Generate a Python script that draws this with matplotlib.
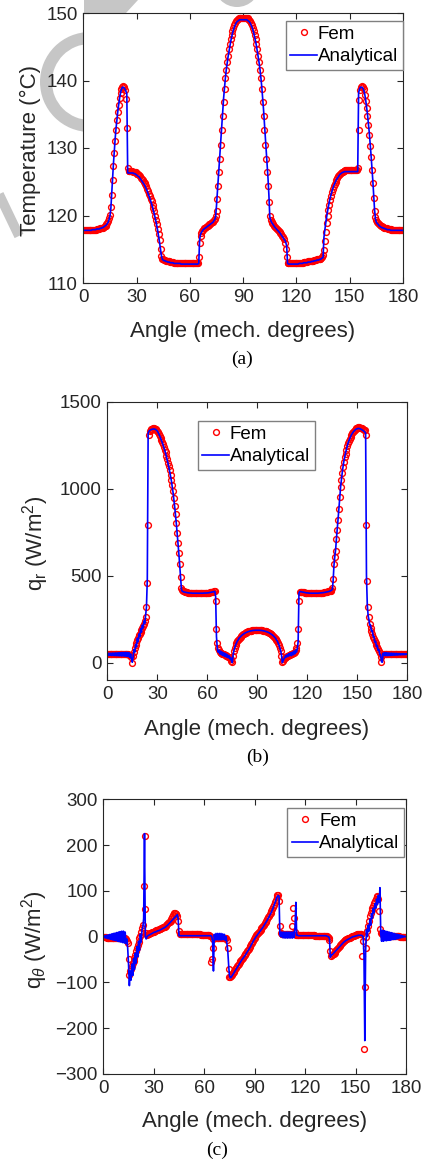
import numpy as np
import matplotlib.pyplot as plt
from matplotlib.patches import Wedge, Circle, Polygon

plt.rcParams['font.family'] = ['Liberation Sans', 'DejaVu Sans']
plt.rcParams['mathtext.fontset'] = 'custom'
plt.rcParams['mathtext.rm'] = 'Liberation Sans'
plt.rcParams['mathtext.it'] = 'Liberation Sans:italic'

# angle grid, 0.5 deg steps (mech. degrees)
angle = np.arange(0, 180.5, 0.5)

# ---------------- (a) temperature ----------------
temp_fem = [
    117.8, 117.8, 117.8, 117.8, 117.8, 117.8, 117.8, 117.8, 117.8, 117.8,
    117.9, 117.9, 117.9, 117.9, 117.9, 118.0, 118.0, 118.0, 118.0, 118.1,
    118.1, 118.2, 118.2, 118.3, 118.4, 118.5, 118.7, 118.9, 119.2, 119.6,
    120.1, 121.2, 123.0, 125.2, 127.3, 129.3, 131.1, 132.7, 134.1, 135.3,
    136.4, 137.4, 138.2, 138.8, 139.1, 139.2, 139.1, 138.6, 137.2, 132.9,
    127.0, 126.6, 126.6, 126.6, 126.6, 126.6, 126.5, 126.5, 126.4, 126.4,
    126.2, 126.2, 126.1, 126.0, 125.8, 125.6, 125.4, 125.2, 125.0, 124.8,
    124.6, 124.3, 123.9, 123.6, 123.2, 122.9, 122.5, 122.1, 121.6, 121.1,
    120.6, 120.0, 119.4, 118.7, 118.0, 117.3, 116.3, 115.0, 114.0, 113.6,
    113.5, 113.4, 113.4, 113.3, 113.3, 113.2, 113.2, 113.2, 113.1, 113.1,
    113.1, 113.1, 113.0, 113.0, 113.0, 113.0, 113.0, 113.0, 112.9, 112.9,
    112.9, 112.9, 112.9, 112.9, 112.9, 112.9, 112.9, 112.9, 112.9, 112.9,
    112.9, 112.9, 112.9, 112.9, 112.9, 112.9, 112.9, 112.9, 112.9, 113.0,
    113.9, 115.9, 116.9, 117.4, 117.7, 117.9, 118.1, 118.2, 118.3, 118.4,
    118.5, 118.6, 118.7, 118.8, 118.9, 119.0, 119.1, 119.3, 119.5, 120.0,
    120.6, 122.4, 124.4, 126.4, 128.4, 130.4, 132.6, 134.8, 136.8, 138.7,
    140.4, 141.6, 142.7, 143.7, 144.6, 145.4, 146.1, 146.7, 147.3, 147.8,
    148.2, 148.5, 148.8, 149.0, 149.1, 149.2, 149.2, 149.2, 149.2, 149.2,
    149.2, 149.2, 149.2, 149.2, 149.2, 149.2, 149.1, 149.0, 148.8, 148.5,
    148.2, 147.8, 147.3, 146.7, 146.1, 145.4, 144.6, 143.7, 142.7, 141.6,
    140.4, 138.7, 136.8, 134.8, 132.6, 130.4, 128.4, 126.4, 124.4, 122.0,
    120.0, 119.4, 119.1, 118.9, 118.7, 118.5, 118.3, 118.2, 118.0, 117.9,
    117.7, 117.6, 117.4, 117.2, 117.0, 116.8, 116.5, 116.0, 115.0, 113.9,
    113.0, 112.9, 112.9, 112.9, 112.9, 112.9, 112.9, 112.9, 112.9, 112.9,
    112.9, 112.9, 112.9, 113.0, 113.0, 113.0, 113.0, 113.0, 113.1, 113.1,
    113.1, 113.1, 113.1, 113.2, 113.2, 113.2, 113.2, 113.3, 113.3, 113.3,
    113.4, 113.4, 113.4, 113.5, 113.5, 113.5, 113.6, 113.6, 113.7, 113.8,
    114.2, 114.9, 116.2, 117.6, 118.9, 119.9, 120.8, 121.6, 122.3, 122.9,
    123.5, 123.9, 124.3, 124.6, 124.9, 125.2, 125.5, 125.8, 126.0, 126.2,
    126.3, 126.4, 126.5, 126.6, 126.6, 126.7, 126.7, 126.7, 126.7, 126.7,
    126.7, 126.7, 126.7, 126.7, 126.7, 126.7, 126.7, 126.7, 126.8, 127.0,
    132.7, 137.1, 138.6, 139.1, 139.2, 139.1, 138.7, 137.8, 137.0, 135.9,
    134.7, 133.4, 131.9, 130.3, 128.6, 126.8, 124.8, 122.6, 120.7, 119.8,
    119.3, 119.1, 118.9, 118.7, 118.6, 118.5, 118.4, 118.3, 118.3, 118.2,
    118.2, 118.1, 118.1, 118.0, 118.0, 118.0, 118.0, 117.9, 117.9, 117.9,
    117.9, 117.9, 117.9, 117.8, 117.8, 117.8, 117.8, 117.8, 117.8, 117.8,
    117.8,
]
temp_ana = [
    117.8, 117.8, 117.8, 117.8, 117.8, 117.8, 117.8, 117.8, 117.8, 117.8,
    117.9, 117.9, 117.9, 117.9, 117.9, 118.0, 118.0, 118.0, 118.0, 118.1,
    118.1, 118.2, 118.2, 118.3, 118.4, 118.5, 118.6, 118.8, 119.0, 119.4,
    119.9, 121.0, 123.3, 125.6, 127.8, 129.8, 131.6, 133.1, 134.4, 135.6,
    136.6, 137.5, 138.2, 138.7, 139.0, 139.0, 138.9, 138.7, 138.4, 138.0,
    126.3, 126.3, 126.3, 126.3, 126.3, 126.3, 126.3, 126.2, 126.2, 126.1,
    126.0, 125.9, 125.8, 125.7, 125.5, 125.3, 125.1, 124.9, 124.7, 124.5,
    124.2, 123.9, 123.6, 123.2, 122.9, 122.5, 122.1, 121.7, 121.2, 120.7,
    120.2, 119.6, 119.0, 118.3, 117.6, 116.8, 115.9, 114.9, 114.0, 113.5,
    113.4, 113.3, 113.3, 113.2, 113.2, 113.1, 113.1, 113.1, 113.0, 113.0,
    113.0, 113.0, 112.9, 112.9, 112.9, 112.9, 112.9, 112.9, 112.9, 112.9,
    112.8, 112.8, 112.8, 112.8, 112.8, 112.8, 112.8, 112.8, 112.8, 112.8,
    112.8, 112.8, 112.8, 112.8, 112.8, 112.8, 112.8, 112.8, 112.8, 112.8,
    112.9, 116.5, 117.2, 117.5, 117.7, 117.9, 118.0, 118.1, 118.2, 118.3,
    118.4, 118.5, 118.6, 118.7, 118.8, 118.9, 119.0, 119.2, 119.4, 119.8,
    121.5, 123.5, 125.5, 127.5, 129.5, 131.5, 133.6, 135.6, 137.4, 139.0,
    140.4, 141.6, 142.6, 143.5, 144.3, 145.1, 145.8, 146.4, 147.0, 147.5,
    147.9, 148.2, 148.5, 148.7, 148.8, 148.9, 149.0, 149.0, 149.0, 149.0,
    149.0, 149.0, 149.0, 149.0, 149.0, 148.9, 148.8, 148.7, 148.5, 148.2,
    147.9, 147.5, 147.0, 146.4, 145.8, 145.1, 144.3, 143.5, 142.6, 141.6,
    140.4, 139.0, 137.4, 135.6, 133.6, 131.5, 129.5, 127.5, 125.5, 123.0,
    119.8, 119.3, 119.0, 118.8, 118.6, 118.4, 118.2, 118.1, 117.9, 117.8,
    117.6, 117.5, 117.3, 117.1, 116.9, 116.7, 116.5, 116.3, 116.0, 115.5,
    112.9, 112.8, 112.8, 112.8, 112.8, 112.8, 112.8, 112.8, 112.8, 112.8,
    112.8, 112.8, 112.8, 112.9, 112.9, 112.9, 112.9, 112.9, 113.0, 113.0,
    113.0, 113.0, 113.0, 113.1, 113.1, 113.1, 113.1, 113.2, 113.2, 113.2,
    113.3, 113.3, 113.3, 113.4, 113.4, 113.4, 113.5, 113.5, 113.6, 113.7,
    113.8, 116.8, 117.9, 118.9, 119.8, 120.6, 121.3, 122.0, 122.6, 123.1,
    123.6, 124.0, 124.4, 124.7, 125.0, 125.3, 125.5, 125.7, 125.9, 126.1,
    126.2, 126.3, 126.4, 126.4, 126.5, 126.5, 126.5, 126.5, 126.5, 126.5,
    126.5, 126.5, 126.5, 126.5, 126.5, 126.5, 126.5, 126.5, 126.5, 126.5,
    138.2, 138.7, 139.0, 139.0, 139.0, 138.8, 138.5, 137.9, 137.1, 136.1,
    135.0, 133.7, 132.3, 130.7, 129.0, 127.2, 125.2, 123.0, 120.8, 119.5,
    119.0, 118.8, 118.7, 118.5, 118.4, 118.3, 118.2, 118.2, 118.1, 118.1,
    118.0, 118.0, 117.9, 117.9, 117.9, 117.9, 117.8, 117.8, 117.8, 117.8,
    117.8, 117.8, 117.8, 117.8, 117.8, 117.8, 117.8, 117.8, 117.8, 117.8,
    117.8,
]

# ---------------- (b) radial heat flux ----------------
qr_fem = [
    48, 48, 48, 48, 48, 48, 48, 48, 48, 48,
    48, 48, 48, 48, 48, 48, 48, 48, 48, 48,
    48, 48, 48, 48, 47, 47, 46, 46, 44, 30,
    0, 40, 62, 85, 100, 115, 130, 144, 156, 167,
    178, 190, 200, 210, 221, 240, 260, 320, 455, 790,
    1310, 1330, 1338, 1342, 1345, 1346, 1346, 1345, 1342, 1338,
    1333, 1325, 1315, 1305, 1292, 1280, 1268, 1255, 1240, 1225,
    1208, 1190, 1170, 1150, 1128, 1105, 1080, 1052, 1020, 985,
    945, 900, 852, 800, 745, 690, 630, 565, 495, 430,
    415, 412, 410, 408, 407, 405, 404, 403, 402, 402,
    401, 401, 400, 400, 400, 400, 400, 400, 400, 400,
    400, 400, 400, 400, 400, 400, 400, 400, 401, 401,
    402, 402, 403, 404, 405, 406, 407, 408, 409, 410,
    356, 192, 115, 85, 70, 62, 58, 55, 52, 50,
    48, 45, 42, 40, 38, 35, 33, 28, 20, 10,
    3, 40, 67, 85, 100, 112, 122, 130, 138, 144,
    150, 155, 159, 163, 166, 169, 172, 175, 177, 179,
    180, 182, 183, 184, 185, 186, 186, 187, 187, 187,
    187, 187, 187, 187, 186, 186, 185, 184, 183, 182,
    180, 179, 177, 175, 172, 169, 166, 163, 159, 155,
    150, 144, 138, 130, 122, 112, 100, 85, 67, 40,
    3, 10, 20, 28, 33, 35, 38, 40, 42, 45,
    48, 50, 52, 55, 58, 62, 70, 85, 115, 192,
    356, 405, 408, 407, 406, 405, 404, 403, 402, 402,
    401, 401, 400, 400, 400, 400, 400, 400, 400, 400,
    400, 400, 400, 400, 401, 401, 402, 402, 403, 403,
    404, 405, 406, 407, 408, 409, 410, 412, 414, 418,
    430, 481, 568, 610, 644, 710, 765, 820, 885, 950,
    1010, 1050, 1090, 1125, 1154, 1180, 1202, 1225, 1245, 1262,
    1275, 1287, 1298, 1310, 1320, 1327, 1333, 1338, 1343, 1347,
    1350, 1352, 1352, 1351, 1350, 1348, 1346, 1343, 1340, 1335,
    1310, 789, 471, 320, 260, 222, 200, 180, 163, 148,
    135, 122, 110, 100, 90, 80, 68, 55, 35, 3,
    45, 48, 48, 48, 48, 48, 48, 48, 48, 48,
    48, 48, 48, 48, 48, 48, 48, 48, 48, 48,
    48, 48, 48, 48, 48, 48, 48, 48, 48, 48,
    48,
]
qr_ana = [
    48, 42, 54, 42, 54, 41, 55, 41, 55, 40,
    56, 40, 56, 39, 57, 39, 57, 38, 58, 38,
    58, 37, 59, 36, 58, 35, 57, 30, 50, 20,
    2, 35, 75, 60, 105, 90, 140, 120, 165, 150,
    195, 175, 215, 200, 240, 225, 270, 320, 480, 1320,
    1330, 1335, 1338, 1340, 1342, 1343, 1343, 1342, 1340, 1336,
    1331, 1323, 1313, 1302, 1290, 1278, 1265, 1251, 1236, 1220,
    1203, 1184, 1163, 1142, 1120, 1096, 1070, 1042, 1010, 975,
    935, 890, 842, 790, 735, 678, 618, 552, 485, 420,
    410, 408, 406, 405, 404, 403, 402, 401, 401, 400,
    400, 400, 399, 399, 399, 399, 399, 399, 399, 399,
    399, 399, 399, 399, 399, 399, 400, 400, 400, 400,
    401, 401, 402, 403, 404, 405, 406, 407, 408, 409,
    380, 150, 80, 60, 72, 50, 66, 45, 60, 40,
    56, 36, 52, 32, 46, 28, 40, 22, 30, 10,
    0, 45, 70, 85, 102, 112, 124, 130, 140, 145,
    150, 155, 159, 163, 166, 169, 172, 174, 176, 178,
    179, 181, 182, 183, 184, 185, 185, 186, 186, 186,
    186, 186, 186, 186, 185, 185, 184, 183, 182, 181,
    179, 178, 176, 174, 172, 169, 166, 163, 159, 155,
    150, 145, 140, 130, 124, 112, 102, 85, 70, 45,
    0, 10, 22, 28, 40, 32, 46, 36, 52, 40,
    56, 40, 60, 45, 66, 50, 72, 60, 80, 120,
    400, 409, 408, 407, 406, 405, 404, 403, 402, 401,
    401, 400, 400, 399, 399, 399, 399, 399, 399, 399,
    399, 399, 399, 399, 400, 400, 401, 401, 402, 402,
    403, 404, 405, 406, 407, 408, 409, 411, 413, 416,
    420, 470, 560, 610, 650, 715, 770, 830, 890, 955,
    1012, 1055, 1095, 1130, 1160, 1185, 1207, 1228, 1247, 1264,
    1277, 1289, 1300, 1310, 1318, 1325, 1331, 1336, 1340, 1343,
    1345, 1346, 1346, 1345, 1343, 1340, 1337, 1334, 1330, 1325,
    1320, 500, 330, 270, 245, 215, 215, 180, 185, 150,
    150, 118, 122, 92, 98, 70, 75, 45, 45, 5,
    2, 55, 42, 58, 40, 57, 40, 56, 41, 55,
    41, 54, 42, 54, 42, 53, 43, 53, 43, 52,
    44, 52, 44, 51, 45, 51, 45, 50, 46, 50,
    48,
]

# ---------------- (c) tangential heat flux ----------------
qt_fem = [
    0, 0, -1, -1, -2, -2, -2, -2, -3, -3,
    -3, -3, -3, -3, -3, -3, -3, -3, -3, -3,
    -3, -3, -3, -3, -3, -4, -4, -6, -9, -13,
    -49, -84, -76, -70, -64, -58, -53, -46, -39, -32,
    -25, -18, -11, -4, 2, 10, 18, 26, 110, 219,
    61, 8, 4, 5, 6, 7, 8, 9, 10, 11,
    11, 12, 13, 14, 14, 15, 16, 17, 17, 18,
    19, 20, 21, 22, 24, 25, 27, 29, 31, 33,
    35, 38, 42, 47, 51, 52, 50, 49, 46, 34,
    12, 5, 5, 5, 5, 5, 5, 5, 5, 5,
    5, 5, 5, 5, 5, 5, 5, 5, 5, 5,
    5, 5, 5, 5, 5, 5, 4, 4, 4, 4,
    4, 4, 4, 4, 3, 3, 3, 2, -55, -48,
    -24, -5, -2, -2, -2, -2, -2, -2, -2, -2,
    -2, -2, -2, -2, -3, -3, -4, -8, -24, -71,
    -89, -88, -86, -83, -80, -77, -74, -71, -68, -65,
    -62, -59, -56, -53, -51, -48, -46, -43, -41, -38,
    -35, -32, -29, -26, -23, -20, -16, -13, -9, -6,
    -3, 0, 3, 5, 8, 10, 13, 15, 18, 20,
    23, 26, 29, 32, 35, 38, 42, 45, 49, 52,
    56, 60, 65, 70, 75, 80, 86, 90, 92, 78,
    23, 9, 5, 5, 5, 5, 5, 5, 5, 5,
    5, 5, 5, 5, 5, 23, 63, 41, 10, 4,
    3, 3, 3, 3, 3, 3, 3, 3, 3, 3,
    3, 3, 3, 3, 3, 3, 3, 3, 3, 3,
    3, 3, 2, 2, 2, 2, 2, 2, 2, 2,
    2, 2, 2, 2, 2, 2, 1, 0, -2, -8,
    -31, -42, -40, -38, -37, -35, -32, -29, -27, -25,
    -22, -20, -18, -16, -14, -12, -10, -8, -7, -6,
    -5, -4, -3, -2, -1, 0, 1, 2, 2, 3,
    4, 4, 5, 5, 6, 6, 6, 5, -42, -10,
    -245, -111, -24, 0, 12, 23, 34, 45, 52, 59,
    63, 68, 74, 78, 82, 86, 88, 83, 56, 16,
    8, 7, 6, 5, 5, 4, 4, 3, 3, 3,
    2, 2, 2, 2, 2, 1, 1, 1, 1, 1,
    1, 1, 1, 0, 0, 0, 0, 0, 0, 0,
    0,
]
qt_ana = [
    0, -2, 2, -3, 3, -4, 4, -5, 5, -6,
    6, -7, 7, -8, 8, -9, 9, -10, 10, -11,
    11, -12, 12, -13, 12, -14, 10, -15, -5, -25,
    -60, -107, -75, -95, -60, -85, -48, -72, -36, -58,
    -22, -44, -10, -30, 5, -12, 15, 20, 40, 225,
    0, -5, 0, 2, 3, 4, 5, 6, 7, 8,
    9, 10, 10, 11, 12, 13, 13, 14, 15, 16,
    17, 18, 19, 20, 21, 23, 24, 26, 28, 30,
    32, 34, 36, 38, 40, 42, 44, 46, 48, 40,
    2, 2, 2, 2, 2, 2, 2, 2, 2, 2,
    2, 2, 2, 2, 2, 2, 2, 2, 2, 2,
    2, 2, 2, 2, 2, 2, 2, 2, 2, 2,
    2, 2, 2, 2, 2, 2, 2, 2, 2, 0,
    -10, -75, 5, -7, 7, -7, 7, -7, 7, -7,
    7, -7, 6, -6, 5, -8, 0, -15, -30, -60,
    -85, -90, -89, -86, -83, -80, -77, -74, -71, -68,
    -65, -62, -59, -56, -53, -50, -48, -45, -43, -40,
    -37, -34, -31, -28, -25, -22, -18, -15, -11, -8,
    -5, -2, 1, 3, 6, 8, 11, 13, 16, 18,
    21, 24, 27, 30, 33, 36, 40, 43, 47, 50,
    54, 58, 63, 68, 73, 78, 84, 88, 90, 88,
    5, 0, 10, -2, 10, -3, 10, -3, 10, -3,
    10, -3, 10, -3, 10, -3, 10, -2, 20, 75,
    3, 3, 2, 2, 2, 2, 2, 2, 2, 2,
    2, 2, 2, 2, 2, 2, 2, 2, 2, 2,
    2, 2, 2, 2, 2, 2, 2, 2, 2, 2,
    2, 2, 2, 2, 2, 2, 1, 0, 0, -5,
    -45, -40, -40, -38, -36, -34, -32, -30, -28, -26,
    -24, -22, -20, -18, -16, -14, -12, -11, -9, -8,
    -7, -6, -5, -4, -3, -2, -1, 0, 0, 1,
    1, 2, 2, 3, 3, 3, 3, 3, 2, 0,
    -40, -227, -30, 15, 0, 25, 12, 38, 25, 50,
    40, 62, 52, 72, 62, 82, 70, 90, 75, 107,
    5, -10, 14, -10, 13, -9, 12, -9, 11, -8,
    10, -8, 9, -7, 8, -6, 7, -6, 6, -5,
    5, -4, 4, -3, 3, -2, 2, -1, 1, 0,
    0,
]

xticks = [0, 30, 60, 90, 120, 150, 180]
dark = '#262626'
wm_grey = '#c6c6c6'

W, H = 422, 1162
fig = plt.figure(figsize=(W / 100, H / 100), dpi=100)

# faint watermark behind the top panel (pixel frame, origin top-left)
bg = fig.add_axes([0, 0, 1, 1], zorder=-1)
bg.set_xlim(0, W)
bg.set_ylim(H, 0)
bg.axis('off')
bg.add_patch(Wedge((90, 82), 50, 0, 360, width=12, color=wm_grey, lw=0))
bg.add_patch(Circle((237, -16), 23, color=wm_grey, lw=0))
bg.add_patch(Polygon([(84, 0), (138, 0), (126, 13), (84, 13)], color=wm_grey, lw=0))
bg.plot([-3, 19], [190, 236], color=wm_grey, lw=7, solid_capstyle='butt')


def px_axes(l, t, r, b):
    # axes rectangle given in pixel edges (top-left origin)
    return fig.add_axes([l / W, 1 - b / H, (r - l) / W, (b - t) / H])


def style(ax, ylim, yticks):
    ax.set_xlim(0, 180)
    ax.set_ylim(*ylim)
    ax.set_xticks(xticks)
    ax.set_yticks(yticks)
    ax.tick_params(direction='in', top=True, right=True, length=4, width=0.8,
                   labelsize=13.5, colors=dark, pad=4)
    for s in ax.spines.values():
        s.set_color(dark)
        s.set_linewidth(0.8)


def draw(ax, fem, ana, leg_box):
    ax.plot(angle, fem, 'o', color='red', mfc='none', ms=4.2, mew=1.0, label='Fem')
    ax.plot(angle, ana, '-', color='blue', lw=1.2, label='Analytical')
    leg = ax.legend(loc='upper left', bbox_to_anchor=(leg_box[0] / W, 1 - leg_box[1] / H),
                    bbox_transform=fig.transFigure, fontsize=13.5, frameon=True,
                    fancybox=False, edgecolor='#808080', framealpha=1,
                    handlelength=1.4, handletextpad=0.05, borderpad=0.25,
                    labelspacing=0.3, borderaxespad=0)
    leg.get_frame().set_linewidth(1.0)


ax_a = px_axes(83.3, 13, 403, 283)
draw(ax_a, temp_fem, temp_ana, (285.7, 20.7))
style(ax_a, (110, 150), [110, 120, 130, 140, 150])

ax_b = px_axes(107.3, 401.7, 407.3, 680)
draw(ax_b, qr_fem, qr_ana, (197.7, 420.7))
style(ax_b, (-100, 1500), [0, 500, 1000, 1500])

ax_c = px_axes(103.3, 799.3, 406, 1074)
draw(ax_c, qt_fem, qt_ana, (287.3, 807.7))
style(ax_c, (-300, 300), [-300, -200, -100, 0, 100, 200, 300])


def ftext(x, y, s, **kw):
    fig.text(x / W, 1 - y / H, s, ha='center', va='center', color=dark, **kw)


ftext(30, 150, 'Temperature (°C)', rotation=90, fontsize=16)
ftext(36, 543, r'q$_\mathrm{r}$ (W/m$^2$)', rotation=90, fontsize=16)
ftext(35, 940, r'q$_\theta$ (W/m$^2$)', rotation=90, fontsize=16)

ftext(243, 332, 'Angle (mech. degrees)', fontsize=16)
ftext(257, 729, 'Angle (mech. degrees)', fontsize=16)
ftext(255, 1122, 'Angle (mech. degrees)', fontsize=16)

for x, y, s in [(242, 359, '(a)'), (258, 757, '(b)'), (217, 1150, '(c)')]:
    fig.text(x / W, 1 - y / H, s, ha='center', va='center', color='black',
             fontsize=14, family=['Liberation Serif', 'DejaVu Serif'])

fig.savefig('out.png', dpi=100)
